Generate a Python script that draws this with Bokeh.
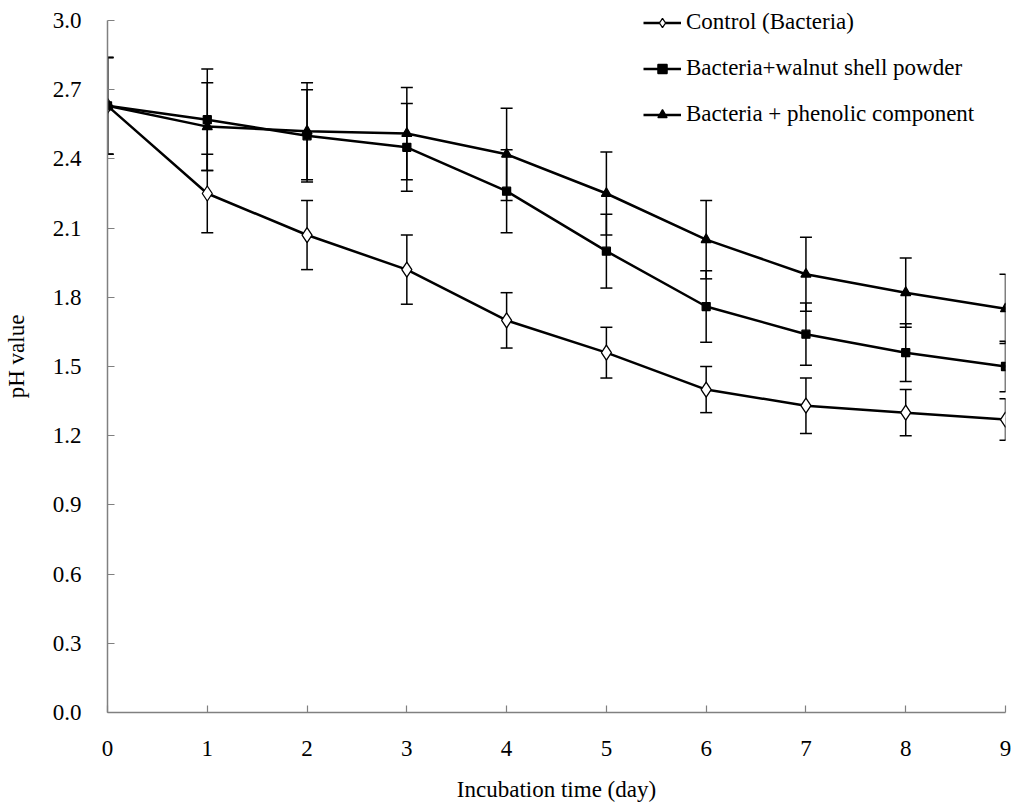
from bokeh.plotting import figure
from bokeh.models import Range1d, ColumnDataSource, Whisker, TeeHead, Legend, LegendItem, FixedTicker, CustomJSTickFormatter
from bokeh.embed import file_html
from bokeh.resources import INLINE

days = [0, 1, 2, 3, 4, 5, 6, 7, 8, 9]
control = [2.63, 2.25, 2.07, 1.92, 1.70, 1.56, 1.40, 1.33, 1.30, 1.27]
control_err = [0.21, 0.17, 0.15, 0.15, 0.12, 0.11, 0.10, 0.12, 0.10, 0.09]
walnut = [2.63, 2.57, 2.50, 2.45, 2.26, 2.00, 1.76, 1.64, 1.56, 1.50]
walnut_err = [0.21, 0.22, 0.20, 0.19, 0.18, 0.16, 0.155, 0.135, 0.125, 0.11]
phenolic = [2.63, 2.54, 2.52, 2.51, 2.42, 2.25, 2.05, 1.90, 1.82, 1.75]
phenolic_err = [0.21, 0.19, 0.21, 0.20, 0.20, 0.18, 0.17, 0.16, 0.15, 0.15]
labels = ["Control (Bacteria)", "Bacteria+walnut shell powder", "Bacteria + phenolic component"]
y_ticks = [0.0, 0.3, 0.6, 0.9, 1.2, 1.5, 1.8, 2.1, 2.4, 2.7, 3.0]

FONT = "Liberation Serif"
FS = "23px"

# frame spans the full top of the canvas so the legend is not clipped;
# the y axis line itself stops at 3.0
p = figure(width=1016, height=806, output_backend="svg", toolbar_location=None,
           x_range=Range1d(0, 9), y_range=Range1d(0, 3.0867),
           min_border_left=106, min_border_right=11, min_border_top=0, min_border_bottom=94)
p.outline_line_color = None
p.grid.grid_line_color = None

for ax in (p.xaxis[0], p.yaxis[0]):
    ax.axis_line_color = "#808080"
    ax.axis_line_width = 1.5
    ax.major_tick_line_color = "#808080"
    ax.major_tick_line_width = 1.2
    ax.major_tick_in = 7
    ax.major_tick_out = 0
    ax.minor_tick_line_color = None
    ax.major_label_text_font = FONT
    ax.major_label_text_font_size = FS
    ax.major_label_text_color = "black"
    ax.axis_label_text_font = FONT
    ax.axis_label_text_font_size = FS
    ax.axis_label_text_font_style = "normal"
    ax.axis_label_text_color = "black"

p.yaxis.bounds = (0, 3.0)
p.xaxis.ticker = FixedTicker(ticks=days)
p.yaxis.ticker = FixedTicker(ticks=y_ticks)
p.yaxis.formatter = CustomJSTickFormatter(code="return tick.toFixed(1);")
p.xaxis.major_label_standoff = 28
p.yaxis.major_label_standoff = 26
p.xaxis.axis_label = "Incubation time (day)"
p.yaxis.axis_label = "pH value"
p.xaxis.axis_label_standoff = 18
p.yaxis.axis_label_standoff = 21

series = [
    (control, control_err, "diamond", "white", 15),
    (walnut, walnut_err, "square", "black", 8),
    (phenolic, phenolic_err, "triangle", "black", 10),
]

items = []
for (vals, errs, marker, fill, size), lab in zip(series, labels):
    src = ColumnDataSource(dict(x=days, y=vals,
                                upper=[v + e for v, e in zip(vals, errs)],
                                lower=[v - e for v, e in zip(vals, errs)]))
    w = Whisker(source=src, base="x", upper="upper", lower="lower",
                line_color="black", line_width=1.5,
                upper_head=TeeHead(size=12, line_color="black", line_width=1.5),
                lower_head=TeeHead(size=12, line_color="black", line_width=1.5))
    p.add_layout(w)
    l = p.line("x", "y", source=src, line_color="black", line_width=2.5)
    s = p.scatter("x", "y", source=src, marker=marker, size=size,
                  fill_color=fill, line_color="black", line_width=1.3)
    items.append(LegendItem(label=lab, renderers=[l, s]))

legend = Legend(items=items, location=(536, 585), orientation="vertical",
                label_text_font=FONT, label_text_font_size=FS, label_text_color="black",
                glyph_width=38, glyph_height=23, label_height=23, spacing=20,
                label_standoff=5, padding=0, margin=0,
                border_line_color=None, background_fill_alpha=0)
p.add_layout(legend)

open("out.html", "w").write(file_html(p, INLINE))
